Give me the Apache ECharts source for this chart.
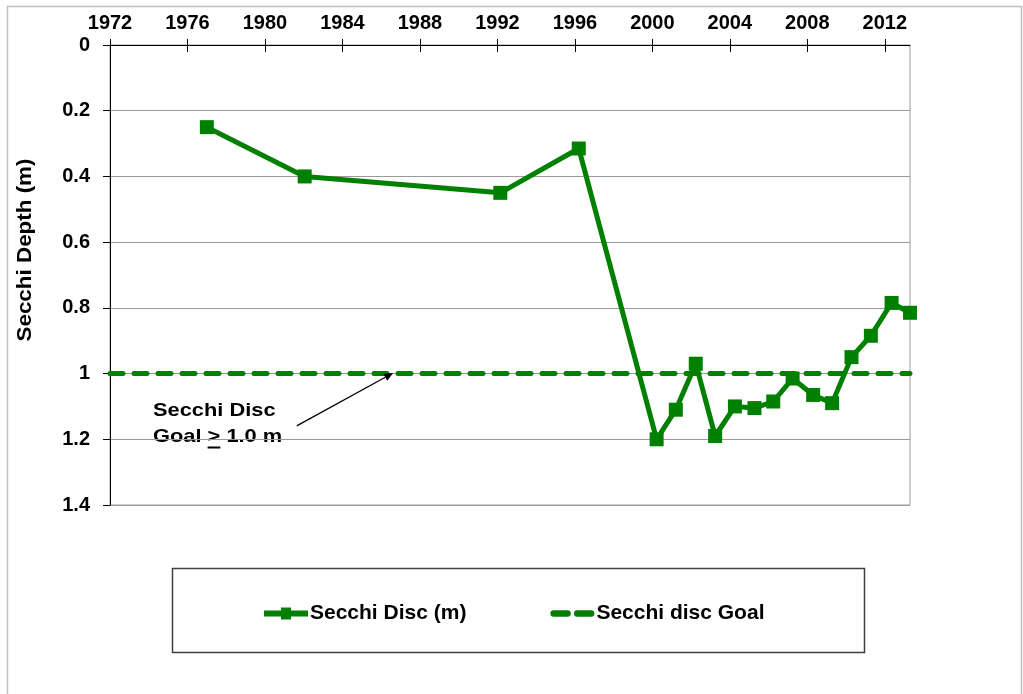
<!DOCTYPE html>
<html>
<head>
<meta charset="utf-8">
<script src="https://cdn.jsdelivr.net/npm/echarts@6/dist/echarts.min.js"></script>
<style>
  html, body { margin: 0; padding: 0; background: #ffffff; }
  #chart { width: 1023px; height: 694px; }
</style>
</head>
<body>
<div id="chart"></div>
<script>
// Sampling dates (decimal years) and Secchi depths in metres
const sampleYears = [1977.0, 1982.05, 1992.15, 1996.2, 2000.22, 2001.21, 2002.24, 2003.24,
                     2004.26, 2005.27, 2006.24, 2007.24, 2008.3, 2009.28, 2010.28, 2011.28,
                     2012.35, 2013.3];
const secchiDepth = [0.25, 0.40, 0.45, 0.315, 1.20, 1.11, 0.97, 1.19,
                     1.10, 1.105, 1.085, 1.015, 1.065, 1.09, 0.95, 0.885,
                     0.785, 0.815];

// Management goal: Secchi depth of at least 1.0 m
const goalDepth = 1.0;

// Axis extents and tick marks
const yearStart = 1972;
const yearEnd = 2013.3;
const yearTicks = [1972, 1976, 1980, 1984, 1988, 1992, 1996, 2000, 2004, 2008, 2012];
const depthTicks = [0, 0.2, 0.4, 0.6, 0.8, 1.0, 1.2, 1.4];

// Callout arrow pointing at the goal line (year, depth); the second point is the tip
const goalArrowFrom = [1981.64, 1.159];
const goalArrowTo = [1986.62, 0.998];

const GREEN = '#008000';
const FONT = '"Liberation Sans", Arial, sans-serif';

// Legend icons: thick line with a square marker, and two rounded dashes
const ICON_SERIES = 'path://M0,16H44V22H0Z M17,13H27V25H17Z';
const ICON_GOAL = 'path://M3,16H16A3,3 0 0 1 16,22H3A3,3 0 0 1 3,16Z M25,16H38A3,3 0 0 1 38,22H25A3,3 0 0 1 25,16Z';

const chart = echarts.init(document.getElementById('chart'), null, { renderer: 'canvas' });

// Width of pieces of the callout text, for the underline under ">"
const calloutSize = 18.5;
const calloutScale = 1.18;
const mctx = document.createElement('canvas').getContext('2d');
mctx.font = 'bold ' + calloutSize + 'px ' + FONT;
const wGoal = mctx.measureText('Goal ').width * calloutScale;
const wGt = mctx.measureText('>').width * calloutScale;

const gridTop = 45, gridBottom = 189;
const gridHeight = 694 - gridTop - gridBottom;

const option = {
  animation: false,
  backgroundColor: '#ffffff',
  grid: {
    left: 110, right: 113, top: gridTop, bottom: gridBottom,
    show: true, borderColor: '#9a9a9a', borderWidth: 1, backgroundColor: 'transparent'
  },
  legend: {
    data: [
      { name: 'Secchi Disc (m)', icon: ICON_SERIES },
      { name: 'Secchi disc Goal', icon: ICON_GOAL }
    ],
    left: 259, top: 598,
    itemWidth: 44, itemHeight: 24, itemGap: 84,
    textStyle: { fontSize: 21, fontWeight: 'bold', color: '#000', fontFamily: FONT, padding: [0, 0, 0, -3] }
  },
  xAxis: [
    {
      type: 'value', position: 'top',
      min: yearStart, max: yearEnd,
      axisLine: { show: true, onZero: false, lineStyle: { color: '#000', width: 1 } },
      axisTick: { show: true, inside: false, length: 6, customValues: yearTicks, lineStyle: { color: '#000' } },
      axisLabel: {
        customValues: yearTicks, margin: 12,
        formatter: v => String(Math.round(v)),
        fontSize: 20, fontWeight: 'bold', color: '#000', fontFamily: FONT
      },
      splitLine: { show: false }
    },
    {
      // second set of tick marks so the year ticks cross the top axis line
      type: 'value', position: 'bottom', offset: -gridHeight,
      min: yearStart, max: yearEnd,
      axisLine: { show: false, onZero: false },
      axisTick: { show: true, inside: false, length: 7, customValues: yearTicks, lineStyle: { color: '#000' } },
      axisLabel: { show: false },
      splitLine: { show: false }
    }
  ],
  yAxis: {
    type: 'value', inverse: true,
    min: depthTicks[0], max: depthTicks[depthTicks.length - 1], interval: 0.2,
    axisLine: { show: true, onZero: false, lineStyle: { color: '#000', width: 1 } },
    axisTick: { show: true, inside: false, length: 7, lineStyle: { color: '#000' } },
    axisLabel: { margin: 20, fontSize: 20, fontWeight: 'bold', color: '#000', fontFamily: FONT },
    splitLine: { show: true, lineStyle: { color: '#9a9a9a', width: 1.2 } }
  },
  series: [
    {
      name: 'Secchi disc Goal',
      type: 'line',
      data: [[yearStart, goalDepth], [yearEnd, goalDepth]],
      symbol: 'none',
      lineStyle: { color: GREEN, width: 5, type: [13, 11], cap: 'round' },
      itemStyle: { color: GREEN },
      z: 2,
      silent: true
    },
    {
      name: 'Secchi Disc (m)',
      type: 'line',
      data: sampleYears.map((y, i) => [y, secchiDepth[i]]),
      symbol: 'rect',
      symbolSize: 14,
      clip: false,
      lineStyle: { color: GREEN, width: 5 },
      itemStyle: { color: GREEN },
      z: 3
    }
  ],
  graphic: [
    // outer chart frame
    { id: 'frame', type: 'rect', shape: { x: 7.5, y: 6.5, width: 1014, height: 700 },
      style: { fill: 'none', stroke: '#c0c0c0', lineWidth: 1.5 }, silent: true },
    // legend frame
    { id: 'legendBox', type: 'rect', shape: { x: 172.5, y: 568.5, width: 692, height: 84 },
      style: { fill: 'none', stroke: '#404040', lineWidth: 1.5 }, silent: true },
    // y-axis title
    { id: 'yTitle', type: 'text', x: 25, y: 250, rotation: Math.PI / 2, scaleX: 1.12,
      style: { text: 'Secchi Depth (m)', font: 'bold 20px ' + FONT, fill: '#000',
               align: 'center', verticalAlign: 'middle' }, silent: true },
    // goal callout
    { id: 'callout1', type: 'text', x: 153, y: 410.5, scaleX: calloutScale,
      style: { text: 'Secchi Disc', font: 'bold ' + calloutSize + 'px ' + FONT, fill: '#000',
               align: 'left', verticalAlign: 'middle' }, silent: true },
    { id: 'callout2', type: 'text', x: 153, y: 437, scaleX: calloutScale,
      style: { text: 'Goal > 1.0 m', font: 'bold ' + calloutSize + 'px ' + FONT, fill: '#000',
               align: 'left', verticalAlign: 'middle' }, silent: true },
    { id: 'calloutUnderline', type: 'rect', shape: { x: 153 + wGoal, y: 446.5, width: wGt, height: 2 },
      style: { fill: '#000' }, silent: true }
  ]
};

chart.setOption(option);

// Callout arrow: shaft plus a filled head, placed through the chart's own coordinate system
const p0 = chart.convertToPixel({ gridIndex: 0 }, goalArrowFrom);
const p1 = chart.convertToPixel({ gridIndex: 0 }, goalArrowTo);
const dx = p1[0] - p0[0], dy = p1[1] - p0[1];
const len = Math.sqrt(dx * dx + dy * dy);
const ux = dx / len, uy = dy / len;
const headLen = 9, headHalf = 4;
const bx = p1[0] - ux * headLen, by = p1[1] - uy * headLen;
chart.setOption({
  graphic: [
    { id: 'arrowShaft', type: 'line', z: 10, silent: true,
      shape: { x1: p0[0], y1: p0[1], x2: bx, y2: by },
      style: { stroke: '#000', lineWidth: 1.3 } },
    { id: 'arrowHead', type: 'polygon', z: 10, silent: true,
      shape: { points: [[p1[0], p1[1]],
                        [bx - uy * headHalf, by + ux * headHalf],
                        [bx + uy * headHalf, by - ux * headHalf]] },
      style: { fill: '#000' } }
  ]
});
</script>
</body>
</html>
